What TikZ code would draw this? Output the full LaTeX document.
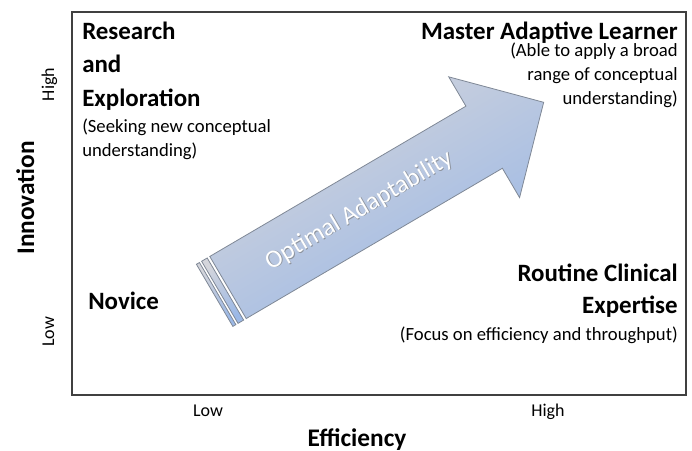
\documentclass[tikz,border=0pt]{standalone}
\usepackage{fontspec}
\setmainfont{Carlito}
\definecolor{framegray}{HTML}{404040}
\definecolor{arrowtop}{HTML}{D4D5DB}
\definecolor{arrowbot}{HTML}{9BB8E6}
\definecolor{arrowline}{HTML}{7F8896}
\begin{document}
\begin{tikzpicture}[x=0.75pt,y=-0.75pt]
    \tikzset{
        headtext/.style={font=\bfseries\fontsize{18.7}{25}\selectfont, inner sep=0pt},
        subtext/.style={font=\fontsize{14}{18}\selectfont, inner sep=0pt},
        ticktext/.style={font=\fontsize{13.5}{16}\selectfont, inner sep=0pt},
        axistext/.style={font=\bfseries\fontsize{19}{23}\selectfont, inner sep=0pt},
        arrowtext/.style={font=\fontsize{19}{22}\selectfont, inner sep=0pt, rotate=30.4},
        stripe/.style={top color=arrowtop, bottom color=arrowbot, shading angle=30.4, draw=arrowline, line width=0.6pt},}
    \useasboundingbox (0,0) rectangle (692,450);
    \draw [framegray, line width=1pt] (72,12) rectangle (686,395);
    % axes
    \node [axistext, rotate=90, anchor=base] (innov) at (34,198) {Innovation};
    \node [axistext, anchor=base] (effic) at (357,446) {Efficiency};
    \node [ticktext, rotate=90, anchor=base] (yhigh) at (54,84.5) {High};
    \node [ticktext, rotate=90, anchor=base] (ylow) at (54,332) {Low};
    \node [ticktext, anchor=base] (xlow) at (208,416.5) {Low};
    \node [ticktext, anchor=base] (xhigh) at (548,416.5) {High};
    % arrow
    \begin{scope}[shift={(228,287.5)},rotate=30.4]
        \def\arrowbody{(0,-36) -- (297,-36) -- (297,-70) -- (366,0) -- (297,70) -- (297,36) -- (0,36) -- cycle}
        \shadedraw [stripe] (-15.5,-36) rectangle (-12,36);
        \shadedraw [stripe] (-9.5,-36) rectangle (-3,36);
        \shadedraw [stripe] \arrowbody;
        \node [arrowtext, text=black!55, opacity=0.6] (optshadow) at (152.6,0.8) {Optimal Adaptability};
        \node [arrowtext, text=white] (optlabel) at (152,0) {Optimal Adaptability};
    \end{scope}
    % quadrants (base = last line)
    \node [headtext, align=left, anchor=base west] (research) at (82,106) {Research\\and\\Exploration};
    \node [subtext, align=left, anchor=base west] (researchsub) at (82,156.5) {(Seeking new conceptual\\understanding)};
    \node [headtext, align=right, anchor=base east] (master) at (678,39) {Master Adaptive Learner};
    \node [subtext, align=right, anchor=base east] (mastersub) at (678,104) {(Able to apply a broad\\range of conceptual\\understanding)};
    \node [headtext, anchor=base west] (novice) at (88,309) {Novice};
    \node [headtext, align=right, anchor=base east, font=\bfseries\fontsize{18.7}{24}\selectfont] (routine) at (678,313) {Routine Clinical\\Expertise};
    \node [subtext, anchor=base east] (routinesub) at (678,340) {(Focus on efficiency and throughput)};
\end{tikzpicture}
\end{document}
